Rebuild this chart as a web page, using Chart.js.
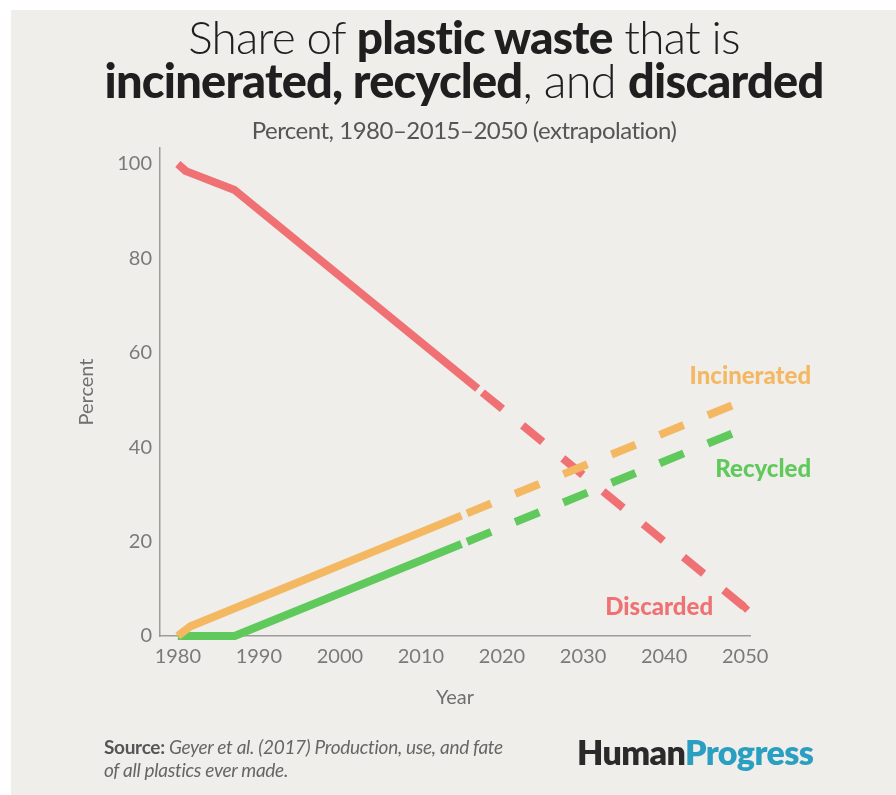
<!DOCTYPE html>
<html>
<head>
<meta charset="utf-8">
<script src="https://cdn.jsdelivr.net/npm/chart.js@4.4.1/dist/chart.umd.min.js"></script>
<style>
  body { margin: 0; background: #fff; font-family: Lato, "Open Sans", sans-serif; }
  #page { position: relative; width: 896px; height: 795px; overflow: hidden; }
  #paper { position: absolute; left: 11px; top: 10px; width: 885px; height: 785px; background: #efeeeb; }
  #chart { position: absolute; left: 0; top: 0; }
  .t { position: absolute; left: 464px; transform: translateX(-50%); white-space: nowrap; color: #1f1f1f; }
  #t1 { top: 9px; font-size: 46px; font-weight: 300; letter-spacing: -0.8px; }
  #t2 { top: 52px; font-size: 47px; font-weight: 300; letter-spacing: -0.8px; }
  .t b { font-weight: 900; }
  #sub { top: 115px; font-size: 24px; color: #555; font-weight: 400; letter-spacing: -0.5px; }
  #src { position: absolute; left: 104px; top: 735px; font-size: 19px; color: #666; line-height: 23px; font-style: italic; letter-spacing: -0.3px; }
  #src b { font-style: normal; font-weight: 700; color: #555; }
  #logo { position: absolute; left: 577px; top: 731px; font-size: 34px; font-weight: 800; color: #2a2a2a; letter-spacing: -0.6px; }
  #logo span { color: #2b9fc1; }
</style>
</head>
<body>
<div id="page">
  <div id="paper"></div>
  <canvas id="chart" width="896" height="795"></canvas>
  <div class="t" id="t1">Share of <b>plastic waste</b> that is</div>
  <div class="t" id="t2"><b>incinerated, recycled</b>, and <b>discarded</b></div>
  <div class="t" id="sub">Percent, 1980–2015–2050 (extrapolation)</div>
  <div id="src"><b>Source:</b> Geyer et al. (2017) Production, use, and fate<br>of all plastics ever made.</div>
  <div id="logo">Human<span>Progress</span></div>
</div>
<script>
// valores
const discardedYears = [1980, 1981, 1987, 2017, 2050];
const discardedValues = [100, 98.5, 94.5, 52.4, 6];
const incineratedYears = [1980, 1981.5, 2015, 2050];
const incineratedValues = [0, 2, 25.5, 50];
const recycledYears = [1980, 1987, 2015, 2050];
const recycledValues = [0, 0, 19.5, 44];
const xTicks = [1980, 1990, 2000, 2010, 2020, 2030, 2040, 2050];
const yTicks = [0, 20, 40, 60, 80, 100];
const projectionStart = 2015;

const colors = { Incinerated: "#f4b862", Recycled: "#5fc95b", Discarded: "#f07173" };

function points(xs, ys) {
  return xs.map(function(x, i) { return { x: x, y: ys[i] }; });
}

// tracejado depois do início da projeção
const dashAfter = function(start) {
  return {
    borderDash: function(ctx) { return ctx.p0.parsed.x >= start ? [26, 26] : undefined; },
    borderDashOffset: function(ctx) { return ctx.p0.parsed.x >= start ? 46 : 0; }
  };
};

function makeDataset(name, xs, ys, dashStart) {
  return {
    label: name,
    data: points(xs, ys),
    borderColor: colors[name],
    backgroundColor: colors[name],
    borderWidth: 8,
    borderJoinStyle: "round",
    tension: 0,
    pointRadius: 0,
    clip: false,
    segment: dashAfter(dashStart)
  };
}

const discarded = makeDataset("Discarded", discardedYears, discardedValues, 2017);
discarded.pointRadius = discardedValues.map(function(v, i) { return i === discardedValues.length - 1 ? 5 : 0; });
discarded.pointStyle = "rectRot";
discarded.pointBorderWidth = 0;

// rótulos das séries ao lado das linhas
const seriesLabelPlugin = {
  id: "seriesLabels",
  afterDatasetsDraw: function(chart) {
    const ctx = chart.ctx;
    const x = chart.scales.x, y = chart.scales.y;
    const spots = [
      { name: "Incinerated", at: 55, dx: 66 },
      { name: "Recycled", at: 35.4, dx: 66 },
      { name: "Discarded", at: 6.1, dx: -32 }
    ];
    ctx.save();
    ctx.font = "900 24px Lato";
    ctx.textAlign = "right";
    ctx.textBaseline = "middle";
    spots.forEach(function(s) {
      ctx.fillStyle = colors[s.name];
      ctx.fillText(s.name, x.getPixelForValue(2050) + s.dx, y.getPixelForValue(s.at));
    });
    ctx.restore();
  }
};

new Chart(document.getElementById("chart").getContext("2d"), {
  type: "line",
  data: {
    datasets: [
      makeDataset("Incinerated", incineratedYears, incineratedValues, projectionStart),
      makeDataset("Recycled", recycledYears, recycledValues, projectionStart),
      discarded
    ]
  },
  options: {
    responsive: false,
    animation: false,
    layout: { padding: { left: 71, top: 148, right: 146, bottom: 82 } },
    plugins: { legend: { display: false }, tooltip: { enabled: false } },
    scales: {
      x: {
        type: "linear",
        min: 1977.8,
        max: 2050.6,
        afterFit: function(s) { s.height = 77; },
        afterBuildTicks: function(s) { s.ticks = xTicks.map(function(v) { return { value: v }; }); },
        grid: { display: false, drawTicks: false },
        border: { color: "#9c9c9c", width: 1.5 },
        ticks: { color: "#7a7a7a", font: { family: "Lato", size: 20 }, padding: 9, callback: function(v) { return String(v); } },
        title: { display: true, text: "Year", color: "#6f6f6f", font: { family: "Lato", size: 20 }, padding: { top: 0, bottom: 3 } }
      },
      y: {
        min: 0,
        max: 103.4,
        afterFit: function(s) { s.width = 89; },
        afterBuildTicks: function(s) { s.ticks = yTicks.map(function(v) { return { value: v }; }); },
        grid: { display: false, drawTicks: false },
        border: { color: "#9c9c9c", width: 1.5 },
        ticks: { color: "#7a7a7a", font: { family: "Lato", size: 20 }, padding: 8 },
        title: { display: true, text: "Percent", color: "#6f6f6f", font: { family: "Lato", size: 20 }, padding: { top: 4, bottom: 0 } }
      }
    }
  },
  plugins: [seriesLabelPlugin]
});
</script>
</body>
</html>
